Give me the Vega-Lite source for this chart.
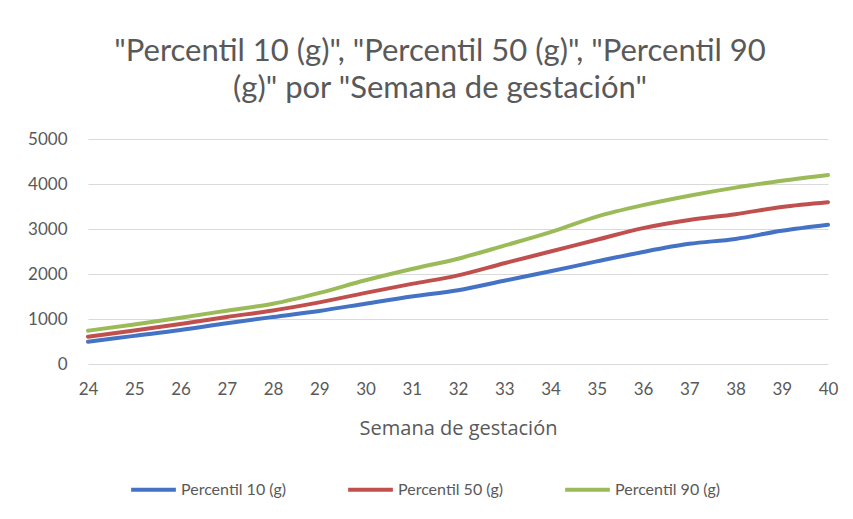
{
  "$schema": "https://vega.github.io/schema/vega-lite/v6.json",
  "width": 740,
  "height": 225,
  "autosize": {"type": "none"},
  "padding": {"left": 88, "top": 139, "right": 25, "bottom": 155},
  "background": "white",
  "config": {
    "font": "Lato",
    "view": {"stroke": null},
    "title": {"font": "Lato", "fontSize": 31, "fontWeight": "normal", "color": "#595959", "lineHeight": 37}
  },
  "title": {
    "text": ["\"Percentil 10 (g)\", \"Percentil 50 (g)\", \"Percentil 90", "(g)\" por \"Semana de gestación\""],
    "anchor": "middle",
    "dx": -18,
    "offset": 25
  },
  "data": {
    "values": [
      {"semana": 24, "serie": "Percentil 10 (g)", "peso": 495},
      {"semana": 25, "serie": "Percentil 10 (g)", "peso": 625},
      {"semana": 26, "serie": "Percentil 10 (g)", "peso": 755},
      {"semana": 27, "serie": "Percentil 10 (g)", "peso": 905},
      {"semana": 28, "serie": "Percentil 10 (g)", "peso": 1045},
      {"semana": 29, "serie": "Percentil 10 (g)", "peso": 1180},
      {"semana": 30, "serie": "Percentil 10 (g)", "peso": 1340},
      {"semana": 31, "serie": "Percentil 10 (g)", "peso": 1500},
      {"semana": 32, "serie": "Percentil 10 (g)", "peso": 1640},
      {"semana": 33, "serie": "Percentil 10 (g)", "peso": 1850},
      {"semana": 34, "serie": "Percentil 10 (g)", "peso": 2060},
      {"semana": 35, "serie": "Percentil 10 (g)", "peso": 2280},
      {"semana": 36, "serie": "Percentil 10 (g)", "peso": 2490},
      {"semana": 37, "serie": "Percentil 10 (g)", "peso": 2670},
      {"semana": 38, "serie": "Percentil 10 (g)", "peso": 2780},
      {"semana": 39, "serie": "Percentil 10 (g)", "peso": 2960},
      {"semana": 40, "serie": "Percentil 10 (g)", "peso": 3095},
      {"semana": 24, "serie": "Percentil 50 (g)", "peso": 606},
      {"semana": 25, "serie": "Percentil 50 (g)", "peso": 745},
      {"semana": 26, "serie": "Percentil 50 (g)", "peso": 890},
      {"semana": 27, "serie": "Percentil 50 (g)", "peso": 1045},
      {"semana": 28, "serie": "Percentil 50 (g)", "peso": 1190},
      {"semana": 29, "serie": "Percentil 50 (g)", "peso": 1370},
      {"semana": 30, "serie": "Percentil 50 (g)", "peso": 1580},
      {"semana": 31, "serie": "Percentil 50 (g)", "peso": 1780},
      {"semana": 32, "serie": "Percentil 50 (g)", "peso": 1970},
      {"semana": 33, "serie": "Percentil 50 (g)", "peso": 2240},
      {"semana": 34, "serie": "Percentil 50 (g)", "peso": 2500},
      {"semana": 35, "serie": "Percentil 50 (g)", "peso": 2760},
      {"semana": 36, "serie": "Percentil 50 (g)", "peso": 3020},
      {"semana": 37, "serie": "Percentil 50 (g)", "peso": 3200},
      {"semana": 38, "serie": "Percentil 50 (g)", "peso": 3330},
      {"semana": 39, "serie": "Percentil 50 (g)", "peso": 3490},
      {"semana": 40, "serie": "Percentil 50 (g)", "peso": 3595},
      {"semana": 24, "serie": "Percentil 90 (g)", "peso": 740},
      {"semana": 25, "serie": "Percentil 90 (g)", "peso": 880},
      {"semana": 26, "serie": "Percentil 90 (g)", "peso": 1030},
      {"semana": 27, "serie": "Percentil 90 (g)", "peso": 1185},
      {"semana": 28, "serie": "Percentil 90 (g)", "peso": 1340},
      {"semana": 29, "serie": "Percentil 90 (g)", "peso": 1580},
      {"semana": 30, "serie": "Percentil 90 (g)", "peso": 1860},
      {"semana": 31, "serie": "Percentil 90 (g)", "peso": 2110},
      {"semana": 32, "serie": "Percentil 90 (g)", "peso": 2340},
      {"semana": 33, "serie": "Percentil 90 (g)", "peso": 2630},
      {"semana": 34, "serie": "Percentil 90 (g)", "peso": 2930},
      {"semana": 35, "serie": "Percentil 90 (g)", "peso": 3275},
      {"semana": 36, "serie": "Percentil 90 (g)", "peso": 3530},
      {"semana": 37, "serie": "Percentil 90 (g)", "peso": 3740},
      {"semana": 38, "serie": "Percentil 90 (g)", "peso": 3920},
      {"semana": 39, "serie": "Percentil 90 (g)", "peso": 4070},
      {"semana": 40, "serie": "Percentil 90 (g)", "peso": 4200}
    ]
  },
  "mark": {"type": "line", "strokeWidth": 4, "interpolate": "monotone", "strokeCap": "round"},
  "encoding": {
    "x": {
      "field": "semana",
      "type": "quantitative",
      "scale": {"domain": [24, 40], "nice": false, "zero": false},
      "axis": {
        "values": [24,25,26,27,28,29,30,31,32,33,34,35,36,37,38,39,40],
        "title": "Semana de gestación",
        "titleFont": "Open Sans",
        "titleFontSize": 20,
        "titleFontWeight": "normal",
        "titleColor": "#595959",
        "titlePadding": 21,
        "labelFont": "Lato",
        "labelFontSize": 17,
        "labelColor": "#595959",
        "labelPadding": 17,
        "ticks": false,
        "domain": false,
        "grid": false,
        "labelFlush": false,
        "labelOverlap": false
      }
    },
    "y": {
      "field": "peso",
      "type": "quantitative",
      "scale": {"domain": [0, 5000], "nice": false},
      "axis": {
        "values": [0, 1000, 2000, 3000, 4000, 5000],
        "format": "d",
        "title": null,
        "labelFont": "Lato",
        "labelFontSize": 17,
        "labelColor": "#595959",
        "labelPadding": 21,
        "ticks": false,
        "domain": false,
        "grid": true,
        "gridColor": "#d9d9d9",
        "gridWidth": 1.2
      }
    },
    "color": {
      "field": "serie",
      "type": "nominal",
      "scale": {
        "domain": ["Percentil 10 (g)", "Percentil 50 (g)", "Percentil 90 (g)"],
        "range": ["#4472C4", "#C0504D", "#9BBB59"]
      },
      "legend": {
        "title": null,
        "orient": "none",
        "legendX": 41,
        "legendY": 326,
        "direction": "horizontal",
        "symbolType": "stroke",
        "symbolSize": 2000,
        "symbolStrokeWidth": 4,
        "labelFont": "Lato",
        "labelFontSize": 16,
        "labelColor": "#595959",
        "labelOffset": 3,
        "columnPadding": 53
      }
    }
  }
}
